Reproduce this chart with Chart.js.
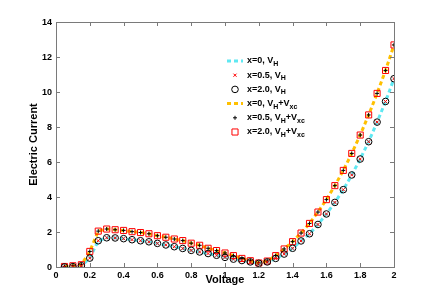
<!DOCTYPE html>
<html>
<head>
<meta charset="utf-8">
<script src="https://cdn.jsdelivr.net/npm/chart.js@4.4.0/dist/chart.umd.min.js"></script>
<style>
  body { margin: 0; background: #fff; }
  #wrap { width: 436px; height: 300px; }
</style>
</head>
<body>
<div id="wrap"><canvas id="iv"></canvas></div>
<script>
// voltage grid (every 0.05)
const voltage = [0.05, 0.1, 0.15, 0.2, 0.25, 0.3, 0.35, 0.4, 0.45, 0.5,
    0.55, 0.6, 0.65, 0.7, 0.75, 0.8, 0.85, 0.9, 0.95, 1.0,
    1.05, 1.1, 1.15, 1.2, 1.25, 1.3, 1.35, 1.4, 1.45, 1.5,
    1.55, 1.6, 1.65, 1.7, 1.75, 1.8, 1.85, 1.9, 1.95, 2.0];

// current with V_H only
const currentH = [0, 0.02, 0.07, 0.51, 1.5, 1.67, 1.66, 1.62, 1.56, 1.5,
    1.44, 1.35, 1.26, 1.16, 1.06, 0.95, 0.86, 0.77, 0.67, 0.55,
    0.45, 0.37, 0.29, 0.21, 0.29, 0.49, 0.74, 1.07, 1.49, 1.9,
    2.43, 3.03, 3.69, 4.42, 5.26, 6.17, 7.16, 8.28, 9.46, 10.76];

// current with V_H + V_xc
const currentHxc = [0.03, 0.07, 0.13, 0.89, 2.05, 2.17, 2.13, 2.09, 2.02, 1.97,
    1.9, 1.79, 1.7, 1.6, 1.51, 1.36, 1.24, 1.07, 0.94, 0.8,
    0.65, 0.49, 0.36, 0.23, 0.34, 0.65, 1.03, 1.45, 1.94, 2.49,
    3.14, 3.85, 4.65, 5.52, 6.49, 7.54, 8.69, 9.92, 11.23, 12.69];

const seriesLabels = ['x=0, V_{H}', 'x=0.5, V_{H}', 'x=2.0, V_{H}',
    'x=0, V_{H}+V_{xc}', 'x=0.5, V_{H}+V_{xc}', 'x=2.0, V_{H}+V_{xc}'];

const xTicks = [0, 0.2, 0.4, 0.6, 0.8, 1, 1.2, 1.4, 1.6, 1.8, 2];
const yTicks = [0, 2, 4, 6, 8, 10, 12, 14];

const FONT = '"Liberation Sans", Helvetica, Arial, sans-serif';

function pts(ys) {
    return voltage.map((v, i) => ({x: v, y: ys[i]}));
}

// box with inward ticks on all four sides (matlab style)
const boxPlugin = {
    id: 'box',
    afterDatasetsDraw(chart) {
        const {ctx, chartArea: a, scales} = chart;
        ctx.save();
        ctx.strokeStyle = '#7a7a7a';
        ctx.lineWidth = 1;
        ctx.strokeRect(Math.round(a.left) + 0.5, Math.round(a.top) + 0.5,
            Math.round(a.right - a.left), Math.round(a.bottom - a.top));
        ctx.beginPath();
        xTicks.forEach(t => {
            const px = Math.round(scales.x.getPixelForValue(t)) + 0.5;
            ctx.moveTo(px, a.bottom); ctx.lineTo(px, a.bottom - 4);
            ctx.moveTo(px, a.top); ctx.lineTo(px, a.top + 4);
        });
        yTicks.forEach(t => {
            const py = Math.round(scales.y.getPixelForValue(t)) + 0.5;
            ctx.moveTo(a.left, py); ctx.lineTo(a.left + 4, py);
            ctx.moveTo(a.right, py); ctx.lineTo(a.right - 4, py);
        });
        ctx.stroke();
        ctx.restore();
    }
};

// y tick labels, drawn last
const yLabelPlugin = {
    id: 'yLabels',
    afterRender(chart) {
        const {ctx, chartArea: a, scales} = chart;
        ctx.save();
        ctx.fillStyle = '#000';
        ctx.font = 'bold 9px ' + FONT;
        ctx.textAlign = 'right';
        ctx.textBaseline = 'middle';
        yTicks.forEach(t => {
            ctx.fillText(String(t), a.left - 4, scales.y.getPixelForValue(t) + 0.5);
        });
        ctx.restore();
    }
};

// legend with subscripts drawn inside the plot
function drawRichText(ctx, str, x, y) {
    const parts = str.split(/(_\{[^}]*\})/).filter(s => s.length);
    parts.forEach(p => {
        if (p.startsWith('_{')) {
            const s = p.slice(2, -1);
            ctx.font = 'bold 7px ' + FONT;
            ctx.fillText(s, x, y + 3);
            x += ctx.measureText(s).width;
        } else {
            ctx.font = 'bold 9px ' + FONT;
            ctx.fillText(p, x, y);
            x += ctx.measureText(p).width;
        }
    });
}

const legendPlugin = {
    id: 'innerLegend',
    afterDraw(chart) {
        const ctx = chart.ctx;
        const x0 = 227, y0 = 61, step = 14.2;
        ctx.save();
        chart.data.datasets.forEach((ds, i) => {
            const y = y0 + i * step;
            if (ds.showLine) {
                ctx.strokeStyle = ds.borderColor;
                ctx.lineWidth = ds.borderWidth;
                ctx.setLineDash(ds.borderDash);
                ctx.beginPath();
                ctx.moveTo(x0, y); ctx.lineTo(x0 + 16, y);
                ctx.stroke();
                ctx.setLineDash([]);
            } else {
                ctx.strokeStyle = ds.borderColor;
                ctx.fillStyle = 'rgba(0,0,0,0)';
                ctx.lineWidth = 1;
                Chart.helpers.drawPoint(ctx, {
                    pointStyle: ds.pointStyle, radius: ds.pointRadius,
                    rotation: 0, borderWidth: 1
                }, x0 + 8, y);
            }
            ctx.fillStyle = '#000';
            ctx.textBaseline = 'middle';
            ctx.textAlign = 'left';
            drawRichText(ctx, seriesLabels[i], x0 + 20, y);
        });
        ctx.restore();
    }
};

const ctx = document.getElementById('iv').getContext('2d');
new Chart(ctx, {
    type: 'scatter',
    data: {
        datasets: [
            {
                data: pts(currentH), showLine: true, pointRadius: 0,
                borderColor: '#5fe8f2', borderWidth: 3, borderDash: [4, 3], order: 10
            },
            {
                data: pts(currentH), showLine: false, pointStyle: 'crossRot', pointRadius: 2.2,
                borderColor: '#ff0000', borderWidth: 1, backgroundColor: 'transparent', order: 2
            },
            {
                data: pts(currentH), showLine: false, pointStyle: 'circle', pointRadius: 3.3,
                borderColor: '#000000', borderWidth: 1, backgroundColor: 'transparent', order: 1
            },
            {
                data: pts(currentHxc), showLine: true, pointRadius: 0,
                borderColor: '#ffc000', borderWidth: 3, borderDash: [4, 3], order: 9
            },
            {
                data: pts(currentHxc), showLine: false, pointStyle: 'cross', pointRadius: 2,
                borderColor: '#000000', borderWidth: 1, backgroundColor: 'transparent', order: 2
            },
            {
                data: pts(currentHxc), showLine: false, pointStyle: 'rect', pointRadius: 4.3,
                borderColor: '#ff0000', borderWidth: 1, backgroundColor: 'transparent', order: 1
            }
        ]
    },
    options: {
        responsive: true,
        maintainAspectRatio: false,
        animation: false,
        layout: {padding: {left: 0, top: 22, right: 42, bottom: 0}},
        plugins: {legend: {display: false}, tooltip: {enabled: false}},
        scales: {
            x: {
                type: 'linear', min: 0, max: 2,
                afterFit: s => { s.height = 33; },
                afterBuildTicks: s => { s.ticks = xTicks.map(v => ({value: v})); },
                grid: {display: false, drawTicks: false},
                border: {display: false},
                ticks: {
                    color: '#000', padding: 3, maxRotation: 0, autoSkip: false,
                    font: {family: FONT, size: 9, weight: 'bold'},
                    callback: v => String(+v.toFixed(1))
                },
                title: {
                    display: true, text: 'Voltage', color: '#000',
                    font: {family: FONT, size: 11, weight: 'bold'},
                    padding: {top: 0, bottom: 13}
                }
            },
            y: {
                type: 'linear', min: 0, max: 14,
                afterFit: s => { s.width = 56; },
                afterBuildTicks: s => { s.ticks = yTicks.map(v => ({value: v})); },
                grid: {display: false, drawTicks: false},
                border: {display: false},
                ticks: {display: false},
                title: {
                    display: true, text: 'Electric Current', color: '#000',
                    font: {family: FONT, size: 11, weight: 'bold'},
                    padding: {top: 27, bottom: 0}
                }
            }
        }
    },
    plugins: [boxPlugin, legendPlugin, yLabelPlugin]
});
</script>
</body>
</html>
